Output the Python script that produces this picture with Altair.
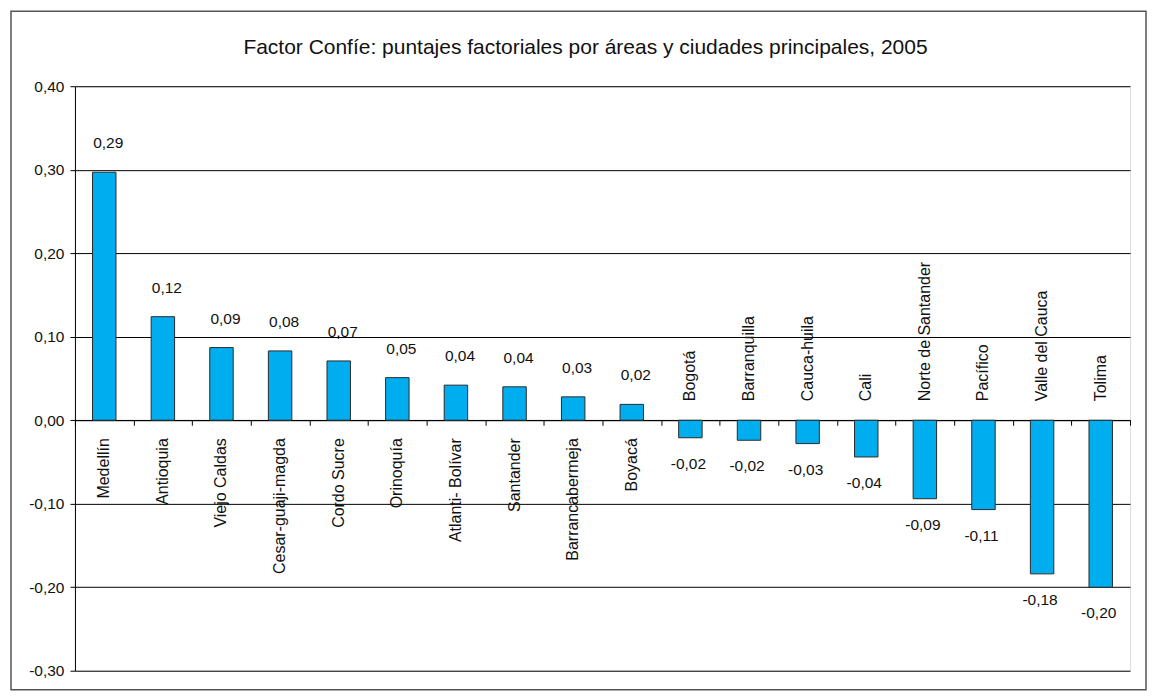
import altair as alt
import pandas as pd

categories = ["Medellín", "Antioquia", "Viejo Caldas", "Cesar-guaji-magda", "Cordo Sucre",
              "Orinoquía", "Atlanti- Bolívar", "Santander", "Barrancabermeja", "Boyacá",
              "Bogotá", "Barranquilla", "Cauca-huila", "Cali", "Norte de Santander",
              "Pacífico", "Valle del Cauca", "Tolima"]
values = [0.297, 0.124, 0.087, 0.083, 0.071, 0.051, 0.042, 0.040, 0.028, 0.019,
          -0.021, -0.024, -0.028, -0.044, -0.094, -0.107, -0.184, -0.200]
value_labels = ["0,29", "0,12", "0,09", "0,08", "0,07", "0,05", "0,04", "0,04", "0,03", "0,02",
                "-0,02", "-0,02", "-0,03", "-0,04", "-0,09", "-0,11", "-0,18", "-0,20"]
y_ticks = [-0.3, -0.2, -0.1, 0.0, 0.1, 0.2, 0.3, 0.4]

TITLE = "Factor Confíe: puntajes factoriales por áreas y ciudades principales, 2005"
FONT = "Liberation Sans"
FS = 15.5
TXT = "#111111"

df = pd.DataFrame({"cat": categories, "val": values, "lab": value_labels})

W, H = 1056, 585
zero_px = H * 0.4 / 0.7

x = alt.X("cat:N", sort=categories, title=None,
          scale=alt.Scale(paddingInner=0, paddingOuter=0),
          axis=alt.Axis(labels=False, tickBand="extent", ticks=True, tickSize=5,
                        tickColor="#000", domainColor="#000", grid=False,
                        offset=-(H - zero_px)))
yscale = alt.Scale(domain=[-0.3, 0.4], nice=False, zero=False)
y = alt.Y("val:Q", title=None, scale=yscale,
          axis=alt.Axis(values=y_ticks, grid=True, gridColor="#000", gridWidth=1,
                        tickColor="#000", tickSize=5, domainColor="#000",
                        labelFont=FONT, labelFontSize=FS, labelColor=TXT, labelPadding=6,
                        labelExpr="(datum.value < -0.0001 ? '-' : '') + replace(format(abs(datum.value), '.2f'), '.', ',')"))

base = alt.Chart(df)
one = pd.DataFrame({"t": [TITLE]})

border = alt.Chart(one).mark_rect(
    fill="transparent", stroke="#555555", strokeWidth=1.5
).encode(x=alt.value(-64), x2=alt.value(1072), y=alt.value(-75), y2=alt.value(604))

title = alt.Chart(one).mark_text(
    align="center", baseline="alphabetic", font=FONT, fontSize=21, color=TXT
).encode(x=alt.value(511), y=alt.value(-32), text="t:N")

bars = base.mark_bar(width={"band": 0.4}, color="#00AEEF", stroke="#2a2a2a",
                     strokeWidth=1).encode(x=x, y=y)

ylab = alt.Y("z:Q", scale=yscale, title=None)
cat_pos = base.transform_filter("datum.val >= 0").transform_calculate(z="0").mark_text(
    angle=270, align="right", baseline="middle", dx=-18, font=FONT, fontSize=16, color=TXT
).encode(x=x, y=ylab, text="cat:N")
cat_neg = base.transform_filter("datum.val < 0").transform_calculate(z="0").mark_text(
    angle=270, align="left", baseline="middle", dx=19, font=FONT, fontSize=16, color=TXT
).encode(x=x, y=ylab, text="cat:N")

val_pos = base.transform_filter("datum.val >= 0").mark_text(
    align="center", baseline="middle", dy=-29, dx=4, font=FONT, fontSize=FS, color=TXT
).encode(x=x, y=y, text="lab:N")
val_neg = base.transform_filter("datum.val < 0").mark_text(
    align="center", baseline="middle", dy=26, dx=-2, font=FONT, fontSize=FS, color=TXT
).encode(x=x, y=y, text="lab:N")

chart = alt.layer(border, title, bars, cat_pos, cat_neg, val_pos, val_neg).properties(
    width=W, height=H,
    autosize=alt.AutoSizeParams(type="none"),
    padding={"left": 67, "top": 78, "right": 18, "bottom": 22},
).configure_view(stroke="#000", strokeWidth=1).configure(background="white")

chart.save("out.html", embed_options={"renderer": "svg", "actions": False})
